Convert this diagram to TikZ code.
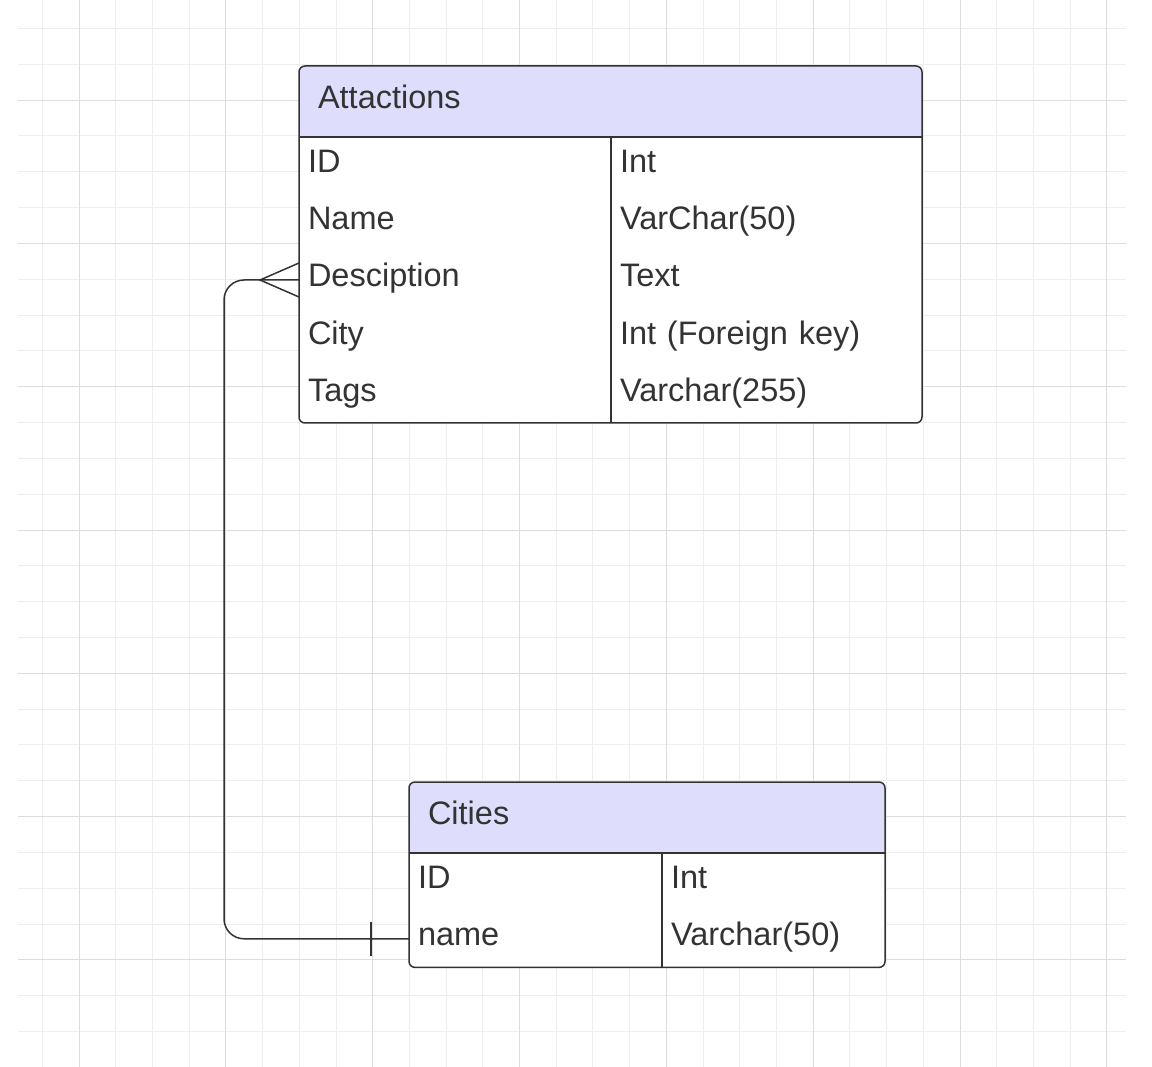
\documentclass[tikz,border=0pt]{standalone}
\usepackage{fontspec}
\setmainfont{Liberation Sans}
\usetikzlibrary{positioning,backgrounds}
\definecolor{ink}{HTML}{333333}
\definecolor{headfill}{HTML}{DEDEFC}
\definecolor{gridlight}{HTML}{EEEEEE}
\definecolor{griddark}{HTML}{DDDDDD}
\tikzset{every node/.style={outer sep=0pt, inner ysep=0pt, text=ink, align=left,
    font=\fontsize{32.5}{38}\selectfont, text height=24pt, text depth=10pt},
  head/.style={anchor=north west, minimum height=71pt, inner xsep=19pt},
  cell/.style={minimum height=57.2pt, inner xsep=9pt},
  outline/.style={draw=ink, line width=1.5pt},
  link/.style={draw=ink, line width=1.5pt},
  gridline/.style={gridlight, line width=0.9pt},
  gridmajor/.style={griddark, line width=0.9pt}}

\begin{document}
\begin{tikzpicture}[x=1pt,y=-1pt]
  \useasboundingbox (0,0) rectangle (1152,1067);
  % Attactions table
  \node[head, text width=585pt] (attHead) at (299,66) {Attactions};
  \node[cell, text width=294pt, anchor=north west] (attId) at (attHead.south west) {ID};
  \node[cell, text width=294pt, below=0pt of attId] (attName) {Name};
  \node[cell, text width=294pt, below=0pt of attName] (attDesc) {Desciption};
  \node[cell, text width=294pt, below=0pt of attDesc] (attCity) {City};
  \node[cell, text width=294pt, below=0pt of attCity] (attTags) {Tags};
  \node[cell, text width=293pt, right=0pt of attId] (attIdType) {Int};
  \node[cell, text width=293pt, right=0pt of attName] (attNameType) {VarChar(50)};
  \node[cell, text width=293pt, right=0pt of attDesc] (attDescType) {Text};
  \node[cell, text width=293pt, right=0pt of attCity] (attCityType) {Int (Foreign key)};
  \node[cell, text width=293pt, right=0pt of attTags] (attTagsType) {Varchar(255)};
  % Cities table
  \node[head, text width=438pt] (citHead) at (409,782) {Cities};
  \node[cell, text width=235pt, anchor=north west] (citId) at (citHead.south west) {ID};
  \node[cell, text width=235pt, below=0pt of citId] (citName) {name};
  \node[cell, text width=205pt, right=0pt of citId] (citIdType) {Int};
  \node[cell, text width=205pt, right=0pt of citName] (citNameType) {Varchar(50)};

  \begin{scope}[on background layer]
   \fill[white] (0,0) rectangle (1152,1067);
   \foreach \i in {-1,...,28}
     \draw[gridline] ({79+36.71*\i},0) -- ({79+36.71*\i},1067);
   \foreach \j in {-2,...,26}
     \draw[gridline] (18,{100+35.83*\j}) -- (1126,{100+35.83*\j});
   \foreach \i in {0,4,...,28}
     \draw[gridmajor] ({79+36.71*\i},0) -- ({79+36.71*\i},1067);
   \foreach \j in {0,4,...,24}
     \draw[gridmajor] (18,{100+35.83*\j}) -- (1126,{100+35.83*\j});
   \fill[white, rounded corners=6pt] (attHead.north west) rectangle (attTagsType.south east);
   \fill[headfill, rounded corners=6pt] (attHead.north west) rectangle (attHead.south east);
   \fill[headfill] (attHead.west) rectangle (attHead.south east);
   \fill[white, rounded corners=6pt] (citHead.north west) rectangle (citNameType.south east);
   \fill[headfill, rounded corners=6pt] (citHead.north west) rectangle (citHead.south east);
   \fill[headfill] (citHead.west) rectangle (citHead.south east);
  \end{scope}

  \draw[outline, rounded corners=6pt] (attHead.north west) rectangle (attTagsType.south east);
  \draw[outline] (attHead.south west) -- (attHead.south east);
  \draw[outline] (attIdType.north west) -- (attTagsType.south west);
  \draw[outline, rounded corners=6pt] (citHead.north west) rectangle (citNameType.south east);
  \draw[outline] (citHead.south west) -- (citHead.south east);
  \draw[outline] (citIdType.north west) -- (citNameType.south west);

  % relation: many attractions to one city
  \draw[link, rounded corners=20pt] (attDesc.west) -- ++(-75,0) |- (citName.west);
  \coordinate (crowTip) at ([xshift=-39pt]attDesc.west);
  \draw[link] ([yshift=17pt]attDesc.west) -- (crowTip) -- ([yshift=-17pt]attDesc.west);
  \draw[link] ([xshift=-38pt,yshift=17pt]citName.west) -- ([xshift=-38pt,yshift=-17pt]citName.west);
\end{tikzpicture}
\end{document}
